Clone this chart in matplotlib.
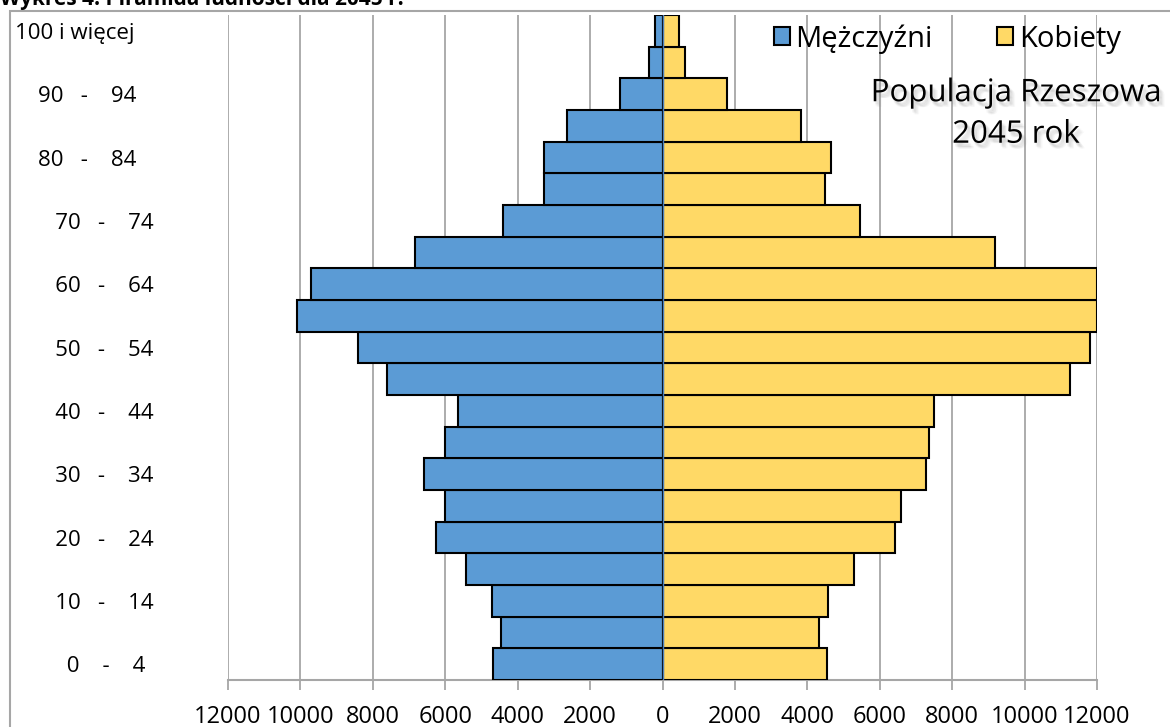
import matplotlib
matplotlib.use("Agg")
import matplotlib.pyplot as plt
import matplotlib.patheffects as pe
from matplotlib.patches import Rectangle, Patch
import numpy as np

plt.rcParams['font.family'] = ['Open Sans', 'DejaVu Sans']

# Age groups from youngest to oldest
age_groups = ["0 - 4", "5 - 9", "10 - 14", "15 - 19", "20 - 24", "25 - 29", "30 - 34",
              "35 - 39", "40 - 44", "45 - 49", "50 - 54", "55 - 59", "60 - 64", "65 - 69",
              "70 - 74", "75 - 79", "80 - 84", "85 - 89", "90 - 94", "95 - 99", "100 i więcej"]
men = [4670, 4450, 4700, 5430, 6260, 6020, 6600, 6020, 5660, 7620, 8420, 10100, 9710, 6830,
       4410, 3280, 3260, 2630, 1170, 370, 220]
women = [4540, 4330, 4560, 5290, 6410, 6580, 7290, 7370, 7490, 11260, 11810, 12000, 12000, 9190,
         5460, 4500, 4640, 3820, 1790, 610, 460]
# Displayed tick labels (every second group), with spacing as in the original
tick_idx = [0, 2, 4, 6, 8, 10, 12, 14, 16, 18, 20]
tick_labels = ["         0    -    4", "       10   -    14", "       20   -    24",
               "       30   -    34", "       40   -    44", "       50   -    54",
               "       60   -    64", "       70   -    74", "    80   -    84",
               "    90   -    94", "100 i więcej"]
x_ticks = [-12000, -10000, -8000, -6000, -4000, -2000, 0, 2000, 4000, 6000, 8000, 10000, 12000]
x_tick_labels = ["12000", "10000", "8000", "6000", "4000", "2000", "0",
                 "2000", "4000", "6000", "8000", "10000", "12000"]

W, H = 1170, 727
fig = plt.figure(figsize=(W / 100, H / 100), dpi=100)
ax = fig.add_axes([228 / W, 1 - 680 / H, (1097 - 228) / W, (680 - 15) / H])

y = np.arange(len(age_groups))
blue = "#5B9BD5"
yellow = "#FFD966"
ax.barh(y, -np.array(men), height=1.0, color=blue, edgecolor="black", linewidth=1.5, zorder=3)
ax.barh(y, women, height=1.0, color=yellow, edgecolor="black", linewidth=1.5, zorder=3)

ax.set_xlim(-12000, 12000)
ax.set_ylim(-0.5, len(age_groups) - 0.5)

ax.set_xticks(x_ticks)
ax.set_xticklabels(x_tick_labels, fontsize=17)
ax.xaxis.grid(True, color="#A6A6A6", linewidth=1.3, zorder=0)
ax.set_axisbelow(True)
ax.tick_params(axis="x", length=7, width=1.3, color="#A6A6A6", pad=11)

ax.set_yticks(tick_idx)
ax.set_yticklabels(tick_labels, fontsize=16, ha="left")
ax.tick_params(axis="y", length=0, pad=213 * 0.72)

for s in ["top", "right", "left"]:
    ax.spines[s].set_visible(False)
ax.spines["bottom"].set_color("#A6A6A6")
ax.spines["bottom"].set_linewidth(1.5)

ax.axvline(0, color="#4A7EBB", linewidth=1.0, zorder=4)

handles = [Patch(facecolor=blue, edgecolor="black", linewidth=1.5, label="Mężczyźni"),
           Patch(facecolor=yellow, edgecolor="black", linewidth=1.5, label="Kobiety")]
fig.legend(handles=handles, loc="upper right", bbox_to_anchor=(1121 / W, 1 - 24 / H), ncol=2,
           frameon=False, fontsize=21, handlelength=0.55, handleheight=0.55, handletextpad=0.2,
           columnspacing=2.2, borderaxespad=0.0, borderpad=0.0)

shadow = [pe.SimplePatchShadow(offset=(dx, dy), shadow_rgbFace="#909090", alpha=0.06)
          for dx, dy in [(1, -2), (2, -3), (3, -4), (2, -2), (3, -3), (1, -3), (4, -4), (2, -4)]]
fig.text(1016 / W, 1 - 114 / H, "Populacja Rzeszowa\n2045 rok", ha="center", va="center",
         fontsize=22.5, linespacing=1.5,
         path_effects=shadow + [pe.Normal()])

fig.text(0.0, 1 - 5 / H, "Wykres 4. Piramida ludności dla 2045 r.", ha="left", va="baseline",
         fontsize=15, fontweight="bold")

fig.patches.append(Rectangle((10 / W, -0.1), 1.2, 1.1 - 11 / H, transform=fig.transFigure,
                             fill=False, edgecolor="#A6A6A6", linewidth=1.5))

fig.savefig("out.png", dpi=100)
